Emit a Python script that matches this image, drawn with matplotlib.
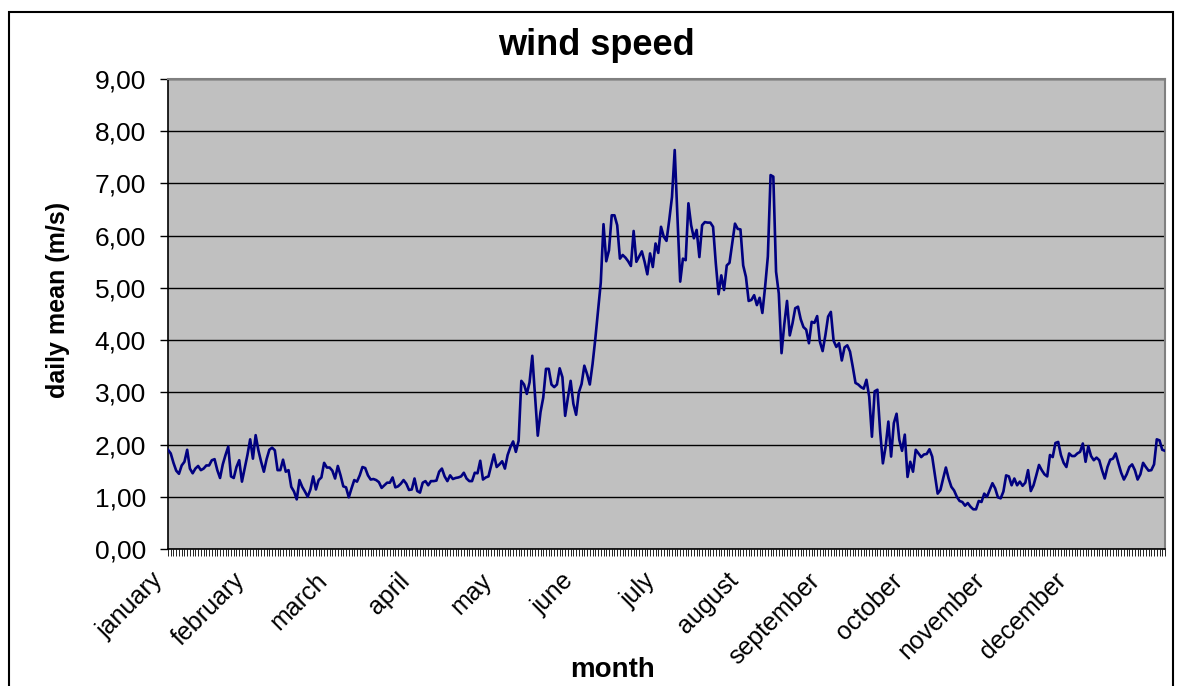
import matplotlib
matplotlib.use("Agg")
import matplotlib.pyplot as plt
import matplotlib.transforms as mtransforms
import numpy as np
from matplotlib.patches import Rectangle
from matplotlib.ticker import FuncFormatter, MultipleLocator

plt.rcParams['font.family'] = ['Liberation Sans', 'DejaVu Sans']

# daily mean wind speed (m/s), one value per day of the year
speed = [
    1.90, 1.83, 1.65, 1.50, 1.44, 1.60, 1.67, 1.90, 1.54, 1.45,
    1.54, 1.59, 1.51, 1.54, 1.60, 1.60, 1.70, 1.72, 1.51, 1.36,
    1.62, 1.80, 1.96, 1.39, 1.36, 1.57, 1.70, 1.29, 1.55, 1.80,
    2.10, 1.73, 2.18, 1.89, 1.67, 1.48, 1.72, 1.90, 1.94, 1.89,
    1.51, 1.51, 1.71, 1.48, 1.51, 1.19, 1.10, 0.95, 1.32, 1.19,
    1.10, 1.00, 1.14, 1.39, 1.14, 1.32, 1.37, 1.65, 1.56, 1.56,
    1.50, 1.35, 1.59, 1.41, 1.20, 1.18, 0.99, 1.16, 1.32, 1.29,
    1.41, 1.57, 1.55, 1.41, 1.33, 1.34, 1.32, 1.28, 1.17, 1.22,
    1.27, 1.27, 1.37, 1.18, 1.20, 1.25, 1.32, 1.25, 1.13, 1.14,
    1.35, 1.11, 1.08, 1.27, 1.30, 1.22, 1.30, 1.30, 1.31, 1.48,
    1.54, 1.39, 1.30, 1.41, 1.34, 1.36, 1.37, 1.39, 1.46, 1.35,
    1.30, 1.30, 1.46, 1.45, 1.69, 1.33, 1.37, 1.39, 1.60, 1.81,
    1.57, 1.62, 1.68, 1.54, 1.80, 1.95, 2.06, 1.86, 2.07, 3.22,
    3.15, 2.97, 3.19, 3.70, 2.95, 2.17, 2.62, 2.90, 3.45, 3.45,
    3.15, 3.10, 3.15, 3.46, 3.29, 2.55, 2.90, 3.22, 2.78, 2.57,
    3.00, 3.16, 3.51, 3.35, 3.15, 3.54, 4.02, 4.55, 5.10, 6.22,
    5.51, 5.72, 6.39, 6.39, 6.20, 5.56, 5.63, 5.58, 5.51, 5.42,
    6.09, 5.50, 5.60, 5.70, 5.50, 5.26, 5.66, 5.40, 5.85, 5.67,
    6.17, 5.98, 5.90, 6.30, 6.74, 7.64, 6.35, 5.12, 5.56, 5.53,
    6.62, 6.20, 5.95, 6.11, 5.59, 6.20, 6.26, 6.25, 6.25, 6.17,
    5.47, 4.88, 5.24, 4.96, 5.43, 5.48, 5.85, 6.23, 6.13, 6.12,
    5.43, 5.21, 4.75, 4.77, 4.86, 4.67, 4.81, 4.52, 5.02, 5.60,
    7.16, 7.13, 5.31, 4.89, 3.75, 4.30, 4.75, 4.09, 4.32, 4.61,
    4.64, 4.40, 4.25, 4.20, 3.94, 4.35, 4.33, 4.46, 3.97, 3.79,
    4.09, 4.45, 4.54, 3.99, 3.87, 3.94, 3.61, 3.86, 3.90, 3.78,
    3.49, 3.18, 3.15, 3.10, 3.07, 3.24, 2.92, 2.15, 3.02, 3.05,
    2.25, 1.64, 1.96, 2.44, 1.77, 2.41, 2.59, 2.09, 1.88, 2.19,
    1.38, 1.67, 1.48, 1.90, 1.83, 1.76, 1.81, 1.82, 1.91, 1.77,
    1.42, 1.06, 1.13, 1.35, 1.56, 1.35, 1.19, 1.12, 1.00, 0.92,
    0.90, 0.83, 0.88, 0.81, 0.76, 0.76, 0.92, 0.90, 1.06, 1.00,
    1.13, 1.26, 1.16, 0.99, 0.97, 1.10, 1.41, 1.39, 1.22, 1.35,
    1.22, 1.29, 1.21, 1.27, 1.51, 1.11, 1.22, 1.41, 1.61, 1.51,
    1.43, 1.39, 1.80, 1.76, 2.03, 2.05, 1.80, 1.65, 1.57, 1.83,
    1.78, 1.78, 1.83, 1.86, 2.02, 1.67, 1.97, 1.78, 1.70, 1.75,
    1.70, 1.51, 1.35, 1.57, 1.71, 1.73, 1.83, 1.64, 1.46, 1.33,
    1.43, 1.57, 1.62, 1.51, 1.33, 1.43, 1.65, 1.57, 1.50, 1.51,
    1.62, 2.10, 2.08, 1.90, 1.88,
]

months = ["january", "february", "march", "april", "may", "june",
          "july", "august", "september", "october", "november", "december"]

days = np.arange(len(speed))

W, H = 1177, 686
fig = plt.figure(figsize=(W / 100, H / 100), dpi=100)
ax = fig.add_axes([168 / W, 1 - 549 / H, (1165 - 168) / W, (549 - 79) / H])

ax.set_facecolor("#c0c0c0")
ax.plot(days, speed, color="#000080", lw=1.9, zorder=3)

ax.set_xlim(0, len(speed) - 1)
ax.set_ylim(0, 9)

# y axis
ax.yaxis.set_major_locator(MultipleLocator(1))
ax.yaxis.set_major_formatter(FuncFormatter(lambda v, p: f"{v:.2f}".replace(".", ",")))
ax.tick_params(axis="y", direction="out", length=6, width=1, labelsize=19, pad=10)
ax.grid(axis="y", color="black", lw=1, zorder=1)

# x axis: a tick for every day, month label every 30 days
ax.set_xticks(days, minor=True)
ax.set_xticks(days[::30][:len(months)])
ax.set_xticklabels(months, rotation=45, ha="right", va="center",
                   rotation_mode="anchor", fontsize=18)
ax.tick_params(axis="x", which="both", direction="out", length=5, width=0.6, pad=15)
shift = mtransforms.ScaledTranslation(-9 / 100, 0, fig.dpi_scale_trans)
for lab in ax.get_xticklabels():
    lab.set_transform(lab.get_transform() + shift)

for side in ["top", "right"]:
    ax.spines[side].set_color("#808080")
    ax.spines[side].set_linewidth(1.5)
for side in ["left", "bottom"]:
    ax.spines[side].set_color("black")
    ax.spines[side].set_linewidth(1.2)

fig.text(613 / W, 1 - 677 / H, "month", fontsize=20, fontweight="bold",
         ha="center", va="baseline")
fig.text(58 / W, 1 - 300 / H, "daily mean (m/s)", fontsize=18, fontweight="bold",
         ha="center", va="center", rotation=90)
fig.text(596 / W, 1 - 55 / H, "wind speed", fontsize=26, fontweight="bold",
         ha="center", va="baseline")

# chart area frame
fig.patches.append(Rectangle((9 / W, -0.05), (1173 - 9) / W, 1.05 - 12 / H,
                             transform=fig.transFigure, fill=False,
                             edgecolor="black", lw=1.5))

fig.savefig("out.png", dpi=100)
